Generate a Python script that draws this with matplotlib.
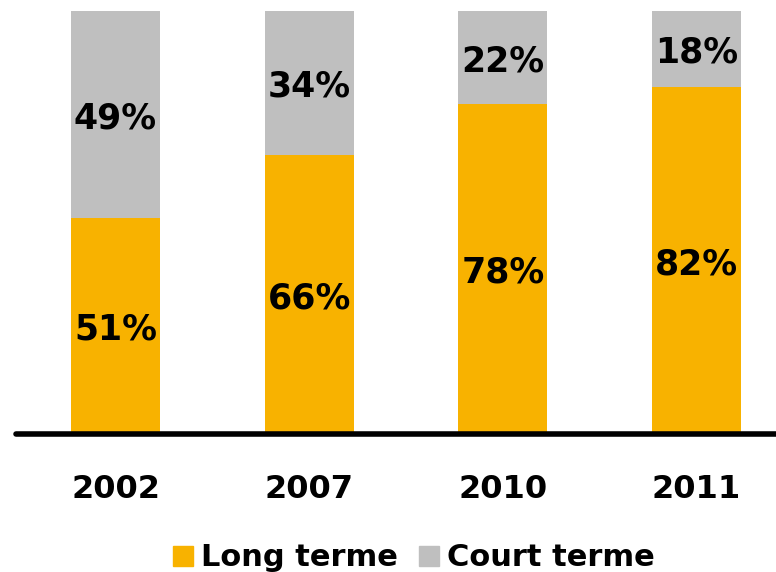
import numpy as np
import matplotlib.pyplot as plt
from matplotlib.patches import Patch

years = ['2002', '2007', '2010', '2011']
long_terme = [51, 66, 78, 82]
court_terme = [49, 34, 22, 18]

orange = '#F8B200'
gris = '#BFBFBF'

fig = plt.figure(figsize=(7.76, 5.72), dpi=100)
ax = fig.add_axes([16 / 776, (572 - 434) / 572, 1 - 16 / 776, (434 - 11) / 572])

x = np.arange(len(years))
lt = np.array(long_terme) / 100
ct = np.array(court_terme) / 100
ax.bar(x, lt, width=0.46, color=orange)
ax.bar(x, ct, width=0.46, bottom=lt, color=gris)

# labels slightly below the segment middle, like the original
for i in range(len(years)):
    ax.text(x[i], lt[i] / 2 - 0.009, f'{long_terme[i]}%', ha='center', va='center',
            fontsize=25, fontweight='bold')
    ax.text(x[i], lt[i] + ct[i] / 2 - 0.009, f'{court_terme[i]}%', ha='center', va='center',
            fontsize=25, fontweight='bold')

ax.set_xlim(-0.514, 3.41)
ax.set_ylim(0, 1)
for s in ['top', 'right', 'left']:
    ax.spines[s].set_visible(False)
ax.spines['bottom'].set_linewidth(4)
ax.spines['bottom'].set_capstyle('round')
ax.set_yticks([])
ax.set_xticks(x)
ax.set_xticklabels(years, fontsize=23, fontweight='bold')
ax.tick_params(axis='x', length=0, pad=29)

handles = [Patch(color=orange, label='Long terme'), Patch(color=gris, label='Court terme')]
fig.legend(handles=handles, loc='center', bbox_to_anchor=(414 / 776, 1 - 558 / 572),
           ncol=2, frameon=False, prop={'size': 22, 'weight': 'bold'},
           handlelength=0.65, handleheight=0.65, handletextpad=0.25, columnspacing=0.7)

fig.savefig('out.png', dpi=100)
